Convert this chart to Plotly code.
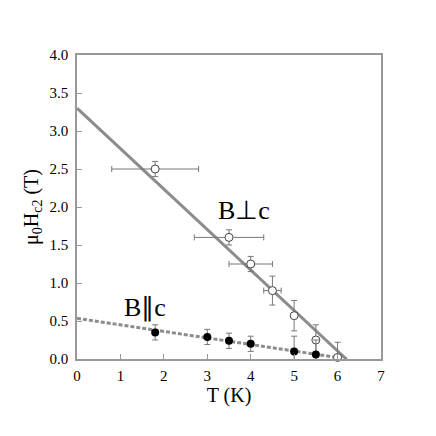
import plotly.graph_objects as go

# B perpendicular c (open circles)
T_perp = [1.8, 3.5, 4.0, 4.5, 5.0, 5.5, 6.0]
H_perp = [2.5, 1.6, 1.25, 0.9, 0.57, 0.25, 0.02]
H_perp_err = [0.1, 0.1, 0.1, 0.19, 0.2, 0.2, 0.2]
T_perp_err = [1.0, 0.8, 0.5, 0.2, 0.0, 0.0, 0.0]

# B parallel c (filled circles)
T_par = [1.8, 3.0, 3.5, 4.0, 5.0, 5.5]
H_par = [0.35, 0.29, 0.24, 0.2, 0.1, 0.06]
H_par_err = [0.1, 0.1, 0.1, 0.1, 0.2, 0.19]

# linear fits
fit_perp_T = [0.0, 6.2]
fit_perp_H = [3.3, 0.0]
fit_par_T = [0.0, 6.22]
fit_par_H = [0.535, 0.0]

xticks = [0, 1, 2, 3, 4, 5, 6, 7]
yticks = [0.0, 0.5, 1.0, 1.5, 2.0, 2.5, 3.0, 3.5, 4.0]

font = "Liberation Serif"
gray = "#8c8c8c"

fig = go.Figure()

fig.add_trace(go.Scatter(x=fit_perp_T, y=fit_perp_H, mode="lines",
                         line={"color": gray, "width": 3}, hoverinfo="skip"))
fig.add_trace(go.Scatter(x=fit_par_T, y=fit_par_H, mode="lines",
                         line={"color": gray, "width": 3, "dash": "4px,2px"}, hoverinfo="skip"))

fig.add_trace(go.Scatter(x=T_perp, y=H_perp, mode="markers",
                         marker={"symbol": "circle", "color": "white", "size": 8,
                                 "line": {"color": "#444", "width": 1}},
                         error_y={"type": "data", "array": H_perp_err, "color": "#777",
                                  "thickness": 1, "width": 3},
                         error_x={"type": "data", "array": T_perp_err, "color": "#777",
                                  "thickness": 1, "width": 3},
                         cliponaxis=False))
fig.add_trace(go.Scatter(x=T_par, y=H_par, mode="markers",
                         marker={"symbol": "circle", "color": "black", "size": 8},
                         error_y={"type": "data", "array": H_par_err, "color": "#777",
                                  "thickness": 1, "width": 3},
                         cliponaxis=False))

fig.add_annotation(x=3.85, y=1.96, text="B\u22a5c", showarrow=False,
                   font={"family": font, "size": 26, "color": "black"})
fig.add_annotation(x=1.57, y=0.68, text="B\u2225c", showarrow=False,
                   font={"family": font, "size": 26, "color": "black"})

axis_common = dict(showgrid=False, zeroline=False, showline=True, linecolor="#999",
                   linewidth=1.5, mirror=True, ticks="inside", ticklen=5,
                   tickcolor="#999", tickfont={"family": font, "size": 15, "color": "black"})

fig.update_xaxes(range=[0, 7], tickvals=xticks, ticklabelstandoff=2,
                 title={"text": "T (K)", "font": {"family": font, "size": 20, "color": "black"},
                        "standoff": 4},
                 **axis_common)
fig.update_yaxes(range=[0, 4], tickvals=yticks, tickformat=".1f", ticklabelstandoff=4,
                 title={"text": "\u03bc<sub>0</sub>H<sub>c2</sub> (T)",
                        "font": {"family": font, "size": 20, "color": "black"},
                        "standoff": 6},
                 **axis_common)

fig.update_layout(width=436, height=436, showlegend=False,
                  margin={"l": 69, "r": 63, "t": 47, "b": 85},
                  plot_bgcolor="white", paper_bgcolor="white")

fig.write_html("out.html")
